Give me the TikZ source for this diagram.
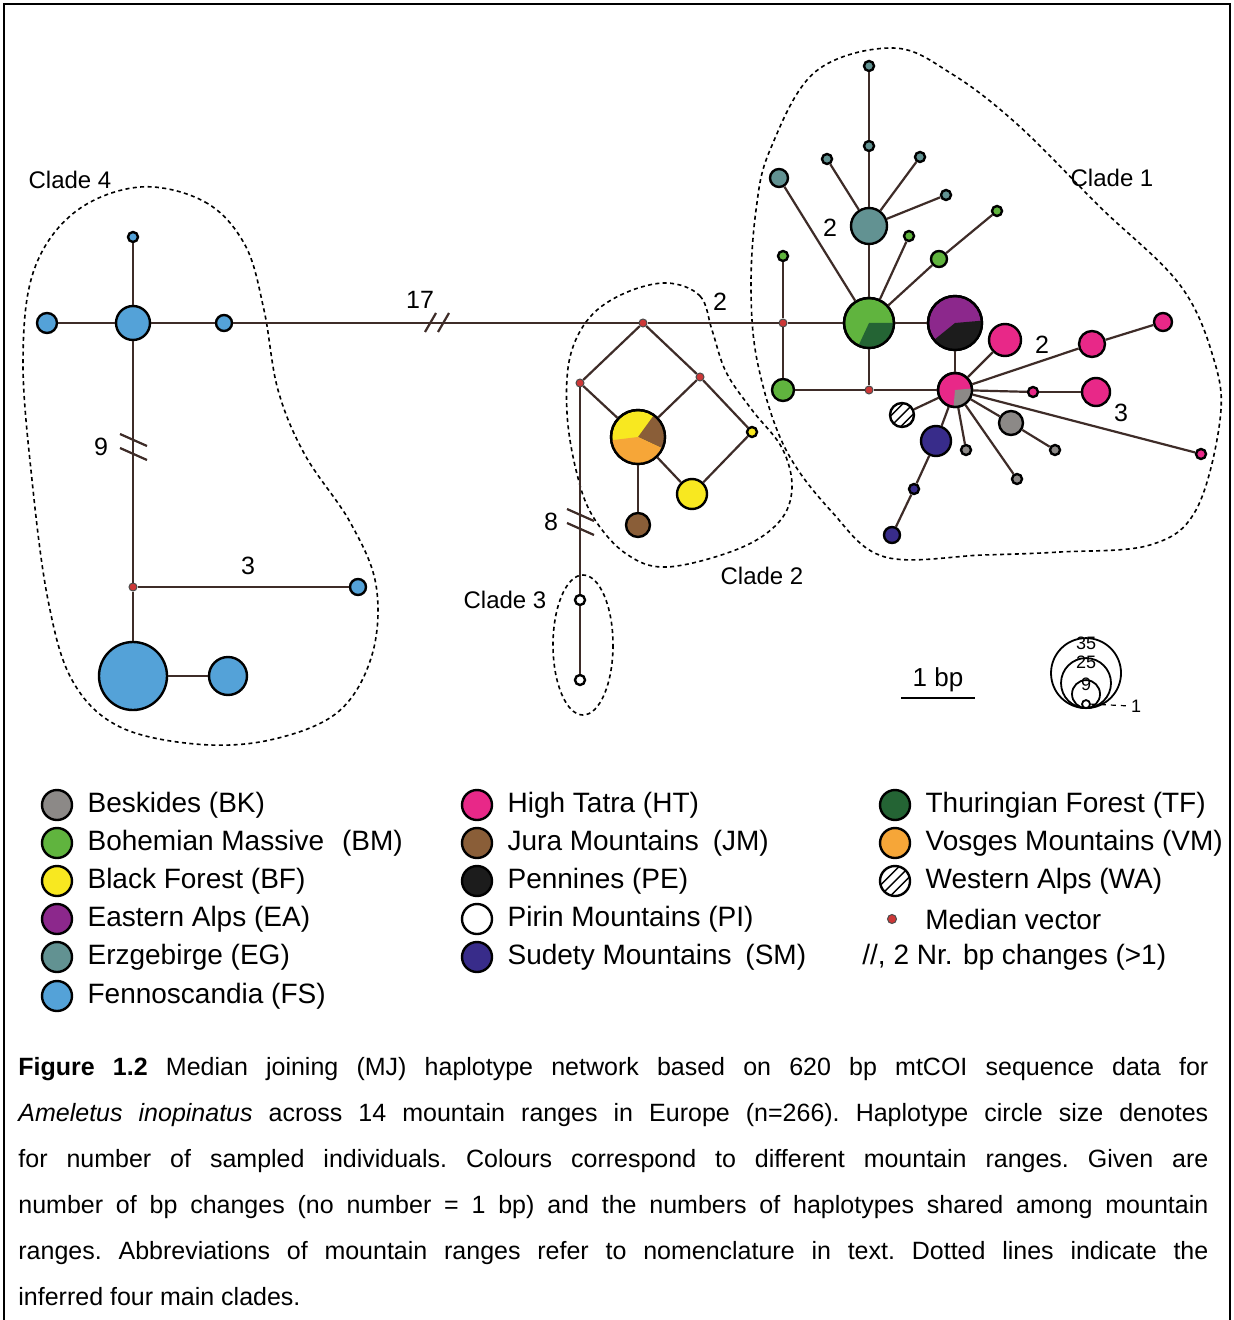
\documentclass[tikz,border=0pt]{standalone}
\usepackage{fontspec}
\setmainfont{Liberation Sans}
\usetikzlibrary{positioning,calc}

\definecolor{bkgrey}{RGB}{140,137,135}
\definecolor{bmgreen}{RGB}{96,180,62}
\definecolor{bfyellow}{RGB}{248,232,32}
\definecolor{eapurple}{RGB}{140,40,140}
\definecolor{egteal}{RGB}{98,146,146}
\definecolor{fsblue}{RGB}{84,162,216}
\definecolor{htpink}{RGB}{232,40,136}
\definecolor{jmbrown}{RGB}{138,94,56}
\definecolor{peblack}{RGB}{28,28,28}
\definecolor{smblue}{RGB}{56,44,138}
\definecolor{tfgreen}{RGB}{36,100,52}
\definecolor{vmorange}{RGB}{246,166,56}
\definecolor{mvred}{RGB}{205,55,55}
\definecolor{linkc}{RGB}{62,44,40}

% wedge of a shared haplotype: node, radius, start, end, colour
\newcommand{\pieslice}[5]{\fill[#5] (#1.center) -- ++(#3:#2) arc[start angle=#3, end angle=#4, radius=#2] -- cycle;}
\newcommand{\hapring}[2]{\draw[line width=1.2pt] (#1.center) circle[radius=#2];}

\begin{document}
\begin{tikzpicture}[x=0.5pt, y=-0.5pt,
  hap/.style={circle, draw=black, line width=1.2pt, inner sep=0pt, minimum size=#1},
  mv/.style={circle, draw=black!70, line width=0.5pt, fill=mvred, inner sep=0pt, minimum size=4pt},
  link/.style={draw=linkc, line width=1.1pt},
  brk/.style={draw=linkc, line width=1.1pt},
  clade/.style={draw=black, line width=0.8pt, dash pattern=on 2pt off 1.7pt},
  numlab/.style={font=\fontsize{12.5}{14}\selectfont, inner sep=0pt},
  cladelab/.style={font=\fontsize{12}{14}\selectfont, inner sep=0pt},
  legdot/.style={circle, draw=black, line width=1.2pt, inner sep=0pt, minimum size=15pt},
  legtxt/.style={font=\fontsize{14}{16}\selectfont, inner sep=0pt},
  sizering/.style={circle, draw=black, line width=0.9pt, inner sep=0pt, minimum size=#1, anchor=south},
  wahatch/.style={fill=white, path picture={\foreach \a/\b in {-2.6/2.6,0/0,2.6/-2.6}{\draw[line width=0.7pt] ([shift={(\a pt,\b pt)}]path picture bounding box.center) ++(-12pt,-12pt) -- ++(24pt,24pt);}}}
]
\fill[white] (0,0) rectangle (1234,1320);
\useasboundingbox (0,0) rectangle (1234,1320);
\draw[line width=1pt] (4,1320) -- (4,4) -- (1230,4) -- (1230,1320);

% clade outlines
\draw[clade] plot[smooth cycle, tension=0.6] coordinates {(140,187) (205,202) (245,245) (264,310) (278,390) (305,455) (350,522) (376,585) (372,655) (338,712) (270,740) (195,744) (118,726) (72,680) (48,600) (32,480) (23,360) (34,270) (75,212)};
\draw[clade] plot[smooth cycle, tension=0.6] coordinates {(667,283) (700,296) (712,330) (726,372) (752,410) (782,448) (792,488) (779,522) (738,549) (667,567) (625,553) (592,515) (576,470) (567,413) (570,357) (590,317) (625,293)};
\draw[clade] (583,645) ellipse[x radius=30, y radius=70];
\draw[clade] plot[smooth cycle, tension=0.6] coordinates {(893,48) (952,74) (1018,125) (1100,207) (1180,285) (1214,360) (1220,420) (1196,510) (1150,545) (1060,552) (983,555) (885,557) (832,512) (785,448) (758,365) (751,290) (756,210) (770,150) (815,72)};
\node[cladelab] (lab4) at (70,180) {Clade 4};
\node[cladelab] (lab1) at (1112,178) {Clade 1};
\node[cladelab] (lab2) at (762,576) {Clade 2};
\node[cladelab] (lab3) at (505,600) {Clade 3};

% clade 4
\node[hap=5pt, fill=fsblue] (fs1) at (133,237) {};
\node[hap=17pt, fill=fsblue] (fsh) at (133,323) {};
\node[hap=10pt, fill=fsblue] (fs2) at (47,323) {};
\node[hap=8pt, fill=fsblue] (fs3) at (224,323) {};
\node[mv] (mva) at (133,587) {};
\node[hap=8pt, fill=fsblue] (fs4) at (358,587) {};
\node[hap=34pt, fill=fsblue] (fsb) at (133,676) {};
\node[hap=19pt, fill=fsblue] (fs5) at (228,676) {};

% clade 2 and 3
\node[mv] (mv1) at (643,323) {};
\node[mv] (mv2) at (580,383) {};
\node[mv] (mv3) at (700,377) {};
\node[hap=27pt, fill=bfyellow] (piey) at (638,437) {};
\node[hap=5pt, fill=bfyellow] (bf1) at (752,432) {};
\node[hap=15pt, fill=bfyellow] (bf2) at (692,494) {};
\node[hap=12pt, fill=jmbrown] (jm1) at (638,525) {};
\node[hap=5pt, fill=white] (pi1) at (580,600) {};
\node[hap=5pt, fill=white] (pi2) at (580,680) {};

% clade 1
\node[mv] (mv4) at (783,323) {};
\node[mv] (mv5) at (869,390) {};
\node[hap=5pt, fill=bmgreen] (bm1) at (783,256) {};
\node[hap=11pt, fill=bmgreen] (bm2) at (783,390) {};
\node[hap=25pt, fill=bmgreen] (tfg) at (869,323) {};
\node[hap=27pt, fill=eapurple] (eap) at (955,323) {};
\node[hap=17pt, fill=htpink] (hth) at (955,390) {};
\node[hap=18pt, fill=egteal] (eg0) at (869,226) {};
\node[hap=5pt, fill=egteal] (eg1) at (869,146) {};
\node[hap=5pt, fill=egteal] (eg2) at (869,66) {};
\node[hap=5pt, fill=egteal] (eg3) at (827,159) {};
\node[hap=5pt, fill=egteal] (eg4) at (920,157) {};
\node[hap=5pt, fill=egteal] (eg5) at (946,195) {};
\node[hap=9pt, fill=egteal] (eg6) at (779,178) {};
\node[hap=5pt, fill=bmgreen] (bm3) at (909,236) {};
\node[hap=8pt, fill=bmgreen] (bm4) at (939,259) {};
\node[hap=5pt, fill=bmgreen] (bm5) at (997,211) {};
\node[hap=16pt, fill=htpink] (ht1) at (1005,340) {};
\node[hap=13pt, fill=htpink] (ht2) at (1092,344) {};
\node[hap=9pt, fill=htpink] (ht3) at (1163,322) {};
\node[hap=5pt, fill=htpink] (ht4) at (1033,392) {};
\node[hap=14pt, fill=htpink] (ht5) at (1096,392) {};
\node[hap=5pt, fill=htpink] (ht6) at (1201,454) {};
\node[hap=12pt, fill=bkgrey] (bk1) at (1011,423) {};
\node[hap=5pt, fill=bkgrey] (bk2) at (1055,450) {};
\node[hap=5pt, fill=bkgrey] (bk3) at (1017,479) {};
\node[hap=5pt, fill=bkgrey] (bk4) at (966,450) {};
\node[hap=12pt, wahatch] (wa1) at (902,415) {};
\node[hap=15pt, fill=smblue] (sm1) at (936,441) {};
\node[hap=5pt, fill=smblue] (sm2) at (914,489) {};
\node[hap=8pt, fill=smblue] (sm3) at (892,535) {};

% shared haplotypes
\pieslice{piey}{13.5pt}{-25}{54}{jmbrown}
\pieslice{piey}{13.5pt}{187}{335}{vmorange}
\hapring{piey}{13.5pt}
\pieslice{tfg}{12.5pt}{-115}{0}{tfgreen}
\hapring{tfg}{12.5pt}
\pieslice{eap}{13.5pt}{219}{365}{peblack}
\hapring{eap}{13.5pt}
\pieslice{hth}{8.5pt}{-95}{5}{bkgrey}
\hapring{hth}{8.5pt}

% connectors
\draw[link] (fs1) -- (fsh);
\draw[link] (fs2) -- (fsh);
\draw[link] (fsh) -- (fs3);
\draw[link] (fs3) -- (mv1);
\draw[link] (fsh) -- (mva);
\draw[link] (mva) -- (fs4);
\draw[link] (mva) -- (fsb);
\draw[link] (fsb) -- (fs5);
\draw[link] (mv1) -- (mv4);
\draw[link] (mv1) -- (mv2);
\draw[link] (mv1) -- (mv3);
\draw[link] (mv2) -- (piey);
\draw[link] (mv3) -- (piey);
\draw[link] (mv3) -- (bf1);
\draw[link] (piey) -- (bf2);
\draw[link] (bf1) -- (bf2);
\draw[link] (piey) -- (jm1);
\draw[link] (mv2) -- (pi1);
\draw[link] (pi1) -- (pi2);
\draw[link] (mv4) -- (tfg);
\draw[link] (bm1) -- (mv4);
\draw[link] (mv4) -- (bm2);
\draw[link] (bm2) -- (mv5);
\draw[link] (mv5) -- (hth);
\draw[link] (tfg) -- (mv5);
\draw[link] (tfg) -- (eap);
\draw[link] (eap) -- (hth);
\draw[link] (tfg) -- (eg0);
\draw[link] (eg0) -- (eg1);
\draw[link] (eg1) -- (eg2);
\draw[link] (eg0) -- (eg3);
\draw[link] (eg0) -- (eg4);
\draw[link] (eg0) -- (eg5);
\draw[link] (tfg) -- (eg6);
\draw[link] (tfg) -- (bm3);
\draw[link] (tfg) -- (bm4);
\draw[link] (bm4) -- (bm5);
\draw[link] (hth) -- (ht1);
\draw[link] (hth) -- (ht2);
\draw[link] (ht2) -- (ht3);
\draw[link] (hth) -- (ht4);
\draw[link] (ht4) -- (ht5);
\draw[link] (hth) -- (ht6);
\draw[link] (hth) -- (bk1);
\draw[link] (bk1) -- (bk2);
\draw[link] (hth) -- (bk3);
\draw[link] (hth) -- (bk4);
\draw[link] (hth) -- (wa1);
\draw[link] (hth) -- (sm1);
\draw[link] (sm1) -- (sm2);
\draw[link] (sm2) -- (sm3);

% bp changes
\coordinate (br17) at (437,323);
\draw[brk] ([shift={(-12,9)}]br17) -- ++(11,-19);
\draw[brk] ([shift={(1,9)}]br17) -- ++(11,-19);
\coordinate (br9) at (133,447);
\draw[brk] ([shift={(-13,-13)}]br9) -- ++(27,12);
\draw[brk] ([shift={(-13,1)}]br9) -- ++(27,12);
\coordinate (br8) at (580,522);
\draw[brk] ([shift={(-13,-13)}]br8) -- ++(27,12);
\draw[brk] ([shift={(-13,1)}]br8) -- ++(27,12);
\node[numlab] (n17) at (420,300) {17};
\node[numlab] (n9) at (101,447) {9};
\node[numlab] (n8) at (551,522) {8};
\node[numlab] (n3a) at (248,566) {3};
\node[numlab] (n2a) at (720,302) {2};
\node[numlab] (n2b) at (830,228) {2};
\node[numlab] (n2c) at (1042,345) {2};
\node[numlab] (n3b) at (1121,413) {3};

% scale and size key
\node[numlab, font=\fontsize{13}{14}\selectfont] (bplab) at (938,680) {1 bp};
\coordinate (sbl) at (901,698);
\coordinate (sbr) at (975,698);
\draw[line width=1.1pt] (sbl) -- (sbr);
\node[sizering=35pt] (sz35) at (1086,709) {};
\node[sizering=25pt] (sz25) at (1086,709) {};
\node[sizering=14pt] (sz9) at (1086,709) {};
\node[sizering=4pt] (sz1) at (1086,709) {};
\node[font=\fontsize{9}{9}\selectfont, inner sep=0pt] at (1086,643) {35};
\node[font=\fontsize{9}{9}\selectfont, inner sep=0pt] at (1086,662) {25};
\node[font=\fontsize{9}{9}\selectfont, inner sep=0pt] at (1086,684) {9};
\node[font=\fontsize{9}{9}\selectfont, inner sep=0pt] (sz1lab) at (1136,706) {1};
\draw[line width=0.6pt, dash pattern=on 2.5pt off 2.5pt] (sz1.east) -- (sz1lab.west);

% legend
\node[legdot, fill=bkgrey] (lgbk) at (57,805) {};
\node[legdot, fill=bmgreen] (lgbm) at (57,843) {};
\node[legdot, fill=bfyellow] (lgbf) at (57,881) {};
\node[legdot, fill=eapurple] (lgea) at (57,919) {};
\node[legdot, fill=egteal] (lgeg) at (57,957) {};
\node[legdot, fill=fsblue] (lgfs) at (57,996) {};
\node[legdot, fill=htpink] (lght) at (477,805) {};
\node[legdot, fill=jmbrown] (lgjm) at (477,843) {};
\node[legdot, fill=peblack] (lgpe) at (477,881) {};
\node[legdot, fill=white] (lgpi) at (477,919) {};
\node[legdot, fill=smblue] (lgsm) at (477,957) {};
\node[legdot, fill=tfgreen] (lgtf) at (895,805) {};
\node[legdot, fill=vmorange] (lgvm) at (895,843) {};
\node[legdot, wahatch] (lgwa) at (895,881) {};
\node[mv, minimum size=4.5pt] (lgmv) at (892,919) {};
\node[legtxt, right=7pt of lgbk] {Beskides (BK)};
\node[legtxt, right=7pt of lgbm] {Bohemian Massive\hspace{9pt}(BM)};
\node[legtxt, right=7pt of lgbf] {Black Forest (BF)};
\node[legtxt, right=7pt of lgea] {Eastern Alps (EA)};
\node[legtxt, right=7pt of lgeg] {Erzgebirge (EG)};
\node[legtxt, right=7pt of lgfs] {Fennoscandia (FS)};
\node[legtxt, right=7pt of lght] {High Tatra (HT)};
\node[legtxt, right=7pt of lgjm] {Jura Mountains\hspace{3pt} (JM)};
\node[legtxt, right=7pt of lgpe] {Pennines (PE)};
\node[legtxt, right=7pt of lgpi] {Pirin Mountains (PI)};
\node[legtxt, right=7pt of lgsm] {Sudety Mountains\hspace{3pt} (SM)};
\node[legtxt, right=7pt of lgtf] {Thuringian Forest (TF)};
\node[legtxt, right=7pt of lgvm] {Vosges Mountains (VM)};
\node[legtxt, right=7pt of lgwa] {Western Alps (WA)};
\node[legtxt, anchor=west] at (925,919) {Median vector};
\node[legtxt, anchor=west] (lgbp) at (862,957) {//, 2 Nr. bp changes (>1)};

% caption
\node[anchor=north west, text width=595pt, align=justify, inner sep=0pt,
  font=\fontsize{12.5}{23}\selectfont] (cap) at (18,1057)
  {\frenchspacing\tolerance=9999\hyphenpenalty=10000
  \textbf{Figure 1.2} Median joining (MJ) haplotype network based on 620 bp mtCOI sequence data for\linebreak
  \textit{Ameletus inopinatus} across 14 mountain ranges in Europe (n=266). Haplotype circle size denotes\linebreak
  for number of sampled individuals. Colours correspond to different mountain ranges. Given are\linebreak
  number of bp changes (no number = 1 bp) and the numbers of haplotypes shared among mountain\linebreak
  ranges. Abbreviations of mountain ranges refer to nomenclature in text. Dotted lines indicate the\linebreak
  inferred four main clades.};
\end{tikzpicture}
\end{document}
